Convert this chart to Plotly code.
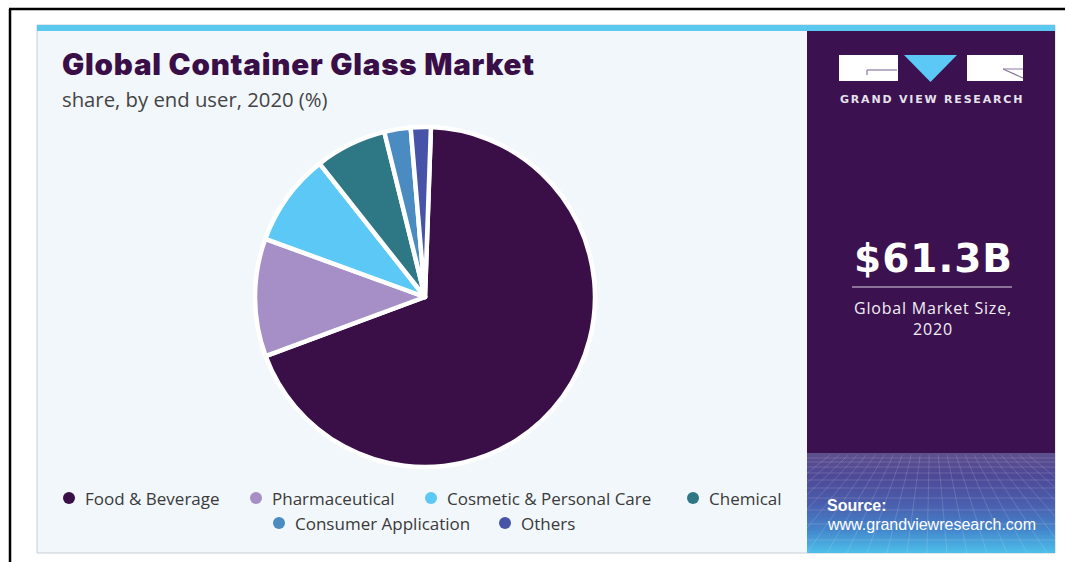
import plotly.graph_objects as go

W, H = 1065, 562

# ---- data -------------------------------------------------------------
categories = [
    "Food & Beverage",
    "Pharmaceutical",
    "Cosmetic & Personal Care",
    "Chemical",
    "Consumer Application",
    "Others",
]
shares = [68.8, 11.2, 8.8, 6.8, 2.5, 1.9]
slice_colors = ["#3a0f48", "#a58fc6", "#5bc8f5", "#2e7886", "#4a8bc2", "#4753a6"]

title_text = "Global Container Glass Market"
subtitle_text = "share, by end user, 2020 (%)"
market_value = "$61.3B"
market_caption = ["Global Market Size,", "2020"]
brand_name = "GRAND VIEW RESEARCH"
source_lines = ["Source:", "www.grandviewresearch.com"]

# ---- layout helpers (pixel -> paper) -----------------------------------
def px(x):
    return x / W


def py(y):
    return 1 - y / H


def rect(x0, y0, x1, y1, fill, line_color=None, line_width=0, layer="below"):
    return dict(
        type="rect", xref="paper", yref="paper",
        x0=px(x0), x1=px(x1), y0=py(y1), y1=py(y0),
        fillcolor=fill,
        line=dict(color=line_color or fill, width=line_width),
        layer=layer,
    )


def seg(x0, y0, x1, y1, color, width, layer="below", opacity=1.0):
    return dict(
        type="line", xref="paper", yref="paper",
        x0=px(x0), x1=px(x1), y0=py(y0), y1=py(y1),
        line=dict(color=color, width=width), layer=layer, opacity=opacity,
    )


def text(x, y, s, size, color, family="Liberation Sans", weight="normal",
         xanchor="left", spacing=None):
    if spacing is not None:
        s = '<span style="letter-spacing:%spx">%s</span>' % (spacing, s)
    return dict(
        x=px(x), y=py(y), xref="paper", yref="paper", text=s,
        showarrow=False, xanchor=xanchor, yanchor="middle",
        font=dict(size=size, color=color, family=family, weight=weight),
    )


def hex_to_rgb(h):
    h = h.lstrip("#")
    return tuple(int(h[i:i + 2], 16) for i in (0, 2, 4))


def blend(stops, y):
    for (ya, ca), (yb, cb) in zip(stops, stops[1:]):
        if ya <= y <= yb:
            t = (y - ya) / (yb - ya)
            a, b = hex_to_rgb(ca), hex_to_rgb(cb)
            return "rgb(%d,%d,%d)" % tuple(round(a[i] + (b[i] - a[i]) * t) for i in range(3))
    return stops[-1][1]


# ---- figure ----------------------------------------------------------
cx, cy, r = 425, 297, 170

fig = go.Figure(
    go.Pie(
        labels=categories,
        values=shares,
        sort=False,
        direction="clockwise",
        rotation=2,
        marker=dict(colors=slice_colors, line=dict(color="white", width=4.5)),
        textinfo="none",
        hovertemplate="%{label}: %{value}%<extra></extra>",
        showlegend=False,
        domain=dict(x=[px(cx - r), px(cx + r)], y=[py(cy + r), py(cy - r)]),
    )
)

shapes = []
annotations = []

# outer frame lines
shapes.append(seg(9, 9, W, 9, "#000000", 2.5))
shapes.append(seg(10, 9, 10, H, "#000000", 2.5))

# card, top accent strip, dark side panel
shapes.append(rect(37, 25, 1055, 553, "#f2f7fb", "#c8ced4", 1))
shapes.append(rect(37, 25, 1055, 31, "#5bc8f0"))
shapes.append(rect(807, 31, 1055, 553, "#3b1150"))

# gradient footer of side panel
grad_stops = [(453, "#5e508d"), (475, "#4e4896"), (505, "#4a5fae"),
              (530, "#4486cc"), (553, "#4cbfea")]
step = 2
for y in range(453, 553, step):
    shapes.append(rect(807, y, 1055, min(y + step, 553), blend(grad_stops, y + step / 2)))

# perspective mesh over the footer
for y in [458, 462, 467, 473, 480, 488, 498, 510, 524, 540]:
    shapes.append(seg(807, y, 1055, y, "#ffffff", 1, opacity=0.14))
vx = 931
for xb in range(707, 1160, 20):
    xt = vx + (xb - vx) * 0.45
    x0, y0, x1, y1 = xt, 455, xb, 553
    if x1 < 807:
        y1 = y0 + (807 - x0) / (x1 - x0) * (y1 - y0)
        x1 = 807
    if x1 > 1055:
        y1 = y0 + (1055 - x0) / (x1 - x0) * (y1 - y0)
        x1 = 1055
    if 807 <= x0 <= 1055:
        shapes.append(seg(x0, y0, x1, y1, "#ffffff", 1, opacity=0.14))

# brand mark
shapes.append(rect(839, 55, 898, 81, "#ffffff"))
shapes.append(seg(867, 70, 897, 70, "#8a7a9c", 1.2))
shapes.append(seg(867, 70, 867, 75, "#8a7a9c", 1.2))
shapes.append(dict(
    type="path", xref="paper", yref="paper",
    path="M %f %f L %f %f L %f %f Z" % (px(904), py(55), px(957), py(55), px(930.5), py(82)),
    fillcolor="#5bc8f5", line=dict(width=0), layer="below",
))
shapes.append(rect(967, 55, 1023, 81, "#ffffff"))
shapes.append(seg(1003, 69, 1023, 78, "#8a7a9c", 1.2))
shapes.append(seg(1003, 69, 1023, 69, "#8a7a9c", 1.0))

annotations.append(text(932, 100, brand_name, 11, "#e6e2ec", "DejaVu Sans", "bold",
                        "center", spacing=1.8))

# headline figure
annotations.append(text(933, 258, market_value, 39, "#ffffff", "DejaVu Sans", "bold",
                        "center", spacing=1))
shapes.append(seg(852, 287, 1012, 287, "#d9d3e0", 1.2))
annotations.append(text(933, 318, "<br>".join(market_caption), 16, "#f2eff5",
                        "Open Sans", "normal", "center", spacing=0.8))

# source
annotations.append(text(825, 505, "<b>%s</b>" % source_lines[0], 16, "#ffffff", "Liberation Sans"))
annotations.append(text(825, 524, source_lines[1], 16, "#ffffff", "Liberation Sans"))

# title block
annotations.append(text(60, 64, title_text, 29.5, "#3a0f48", "Inter", 900, spacing=0.8))
annotations.append(text(60, 99, subtitle_text, 20.3, "#444444", "Open Sans"))

# legend (circle markers + labels)
legend_slots = [(69, 498), (256, 498), (431, 498), (693, 498), (279, 523), (505, 523)]
for name, col, (mx, my) in zip(categories, slice_colors, legend_slots):
    shapes.append(dict(
        type="circle", xref="paper", yref="paper",
        x0=px(mx - 6), x1=px(mx + 6), y0=py(my + 6), y1=py(my - 6),
        fillcolor=col, line=dict(width=0), layer="below",
    ))
    annotations.append(text(mx + 14, my, name, 17, "#3a3a3a", "Open Sans"))

fig.update_layout(
    width=W, height=H,
    margin=dict(l=0, r=0, t=0, b=0),
    paper_bgcolor="#ffffff",
    plot_bgcolor="#ffffff",
    shapes=shapes,
    annotations=annotations,
    showlegend=False,
)

fig.write_html("out.html")
